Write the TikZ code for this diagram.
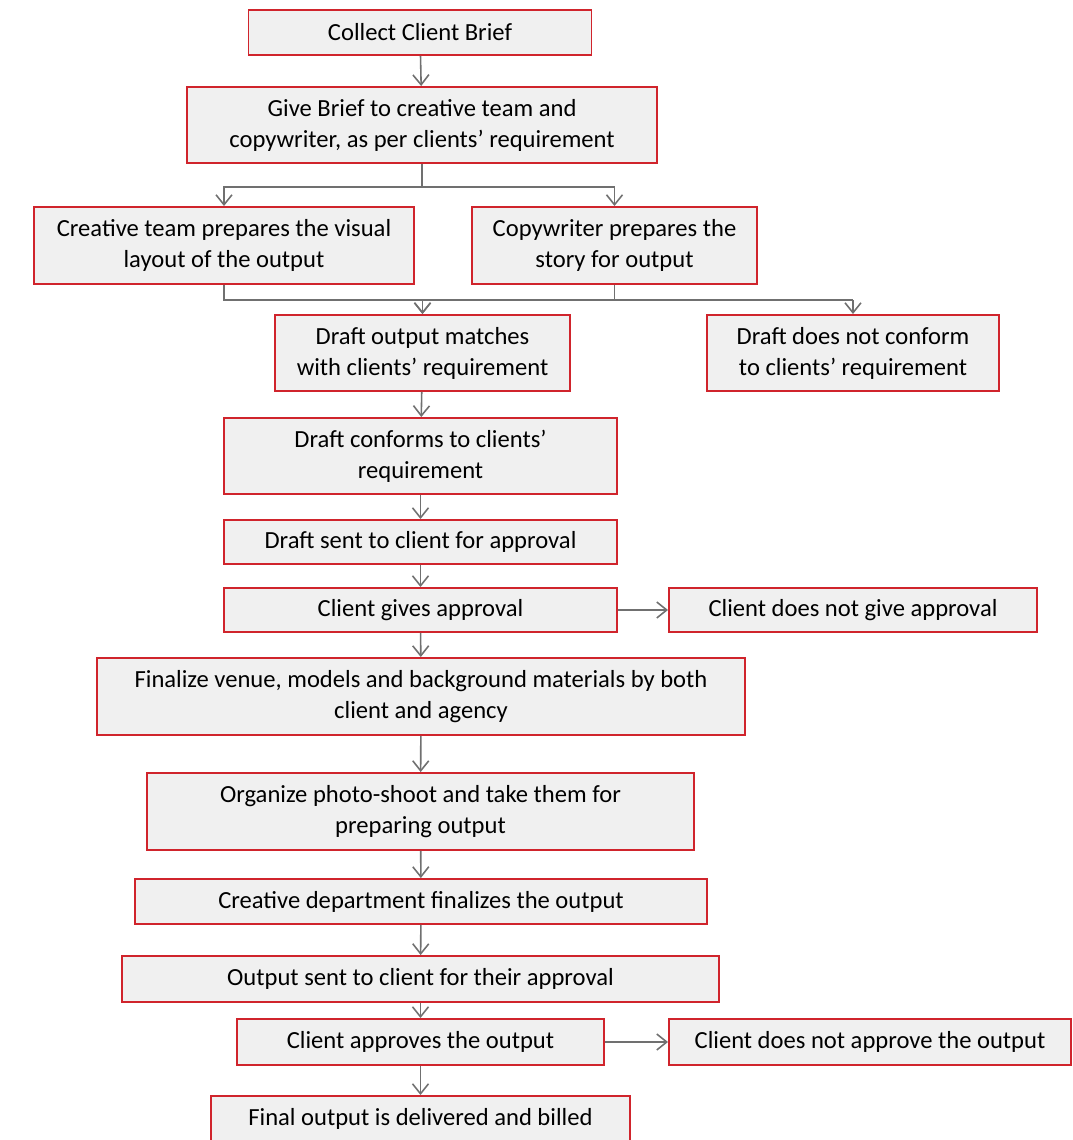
\documentclass[tikz,border=0pt]{standalone}
\usepackage{fontspec}
\setmainfont{Carlito}
\usetikzlibrary{arrows.meta}
\definecolor{boxred}{HTML}{D0242C}
\definecolor{boxfill}{HTML}{F0F0F0}
\definecolor{linegray}{HTML}{707070}
\begin{document}
\begin{tikzpicture}[font=\fontsize{14pt}{17.6pt}\selectfont,
  box/.style={draw=boxred, line width=1.1pt, fill=boxfill, align=center, inner sep=2pt},
  conn/.style={draw=linegray, line width=0.9pt},
  arr/.style={conn, -{Straight Barb[length=2mm, width=3.2mm, line width=0.9pt]}}]
\useasboundingbox (0,0) rectangle (21.44,-22.80);
\node[box, minimum width=6.86cm, minimum height=0.90cm] (collect) at (8.40,-0.65) {Collect Client Brief};
\node[box, minimum width=9.40cm, minimum height=1.52cm] (give) at (8.44,-2.50) {Give Brief to creative team and\\copywriter, as per clients' requirement};
\node[box, minimum width=7.60cm, minimum height=1.54cm] (visual) at (4.48,-4.91) {Creative team prepares the visual\\layout of the output};
\node[box, minimum width=5.70cm, minimum height=1.54cm] (story) at (12.29,-4.91) {Copywriter prepares the\\story for output};
\node[box, minimum width=5.90cm, minimum height=1.52cm] (match) at (8.45,-7.06) {Draft output matches\\with clients' requirement};
\node[box, minimum width=5.84cm, minimum height=1.52cm] (nomatch) at (17.06,-7.06) {Draft does not conform\\to clients' requirement};
\node[box, minimum width=7.86cm, minimum height=1.52cm] (conform) at (8.41,-9.12) {Draft conforms to clients'\\requirement};
\node[box, minimum width=7.86cm, minimum height=0.88cm] (sent) at (8.41,-10.84) {Draft sent to client for approval};
\node[box, minimum width=7.86cm, minimum height=0.88cm] (approval) at (8.41,-12.20) {Client gives approval};
\node[box, minimum width=7.36cm, minimum height=0.88cm] (noapproval) at (17.06,-12.20) {Client does not give approval};
\node[box, minimum width=12.96cm, minimum height=1.54cm] (venue) at (8.42,-13.93) {Finalize venue, models and background materials by both\\client and agency};
\node[box, minimum width=10.94cm, minimum height=1.54cm] (shoot) at (8.41,-16.23) {Organize photo-shoot and take them for\\preparing output};
\node[box, minimum width=11.44cm, minimum height=0.90cm] (finalize) at (8.42,-18.03) {Creative department finalizes the output};
\node[box, minimum width=11.94cm, minimum height=0.92cm] (outsent) at (8.41,-19.58) {Output sent to client for their approval};
\node[box, minimum width=7.34cm, minimum height=0.92cm] (approves) at (8.41,-20.84) {Client approves the output};
\node[box, minimum width=8.04cm, minimum height=0.92cm] (noapproves) at (17.40,-20.84) {Client does not approve the output};
\node[box, minimum width=8.38cm, minimum height=0.92cm] (billed) at (8.41,-22.38) {Final output is delivered and billed};
\coordinate (split) at (give.south |- 0,-3.74);
\coordinate (merge) at (match.north |- 0,-6.00);
\coordinate (mergeR) at (nomatch.north |- 0,-6.00);
\draw[arr] (collect) -- (give);
\draw[conn] (give) -- (split);
\draw[arr] (split) -| (visual);
\draw[arr] (split) -| (story);
\draw[arr] (visual) |- (merge) -- (match);
\draw[arr] (story) |- (merge) -- (match);
\draw[conn] (story) |- (mergeR);
\draw[arr] (mergeR) -- (nomatch);
\draw[arr] (match) -- (conform);
\draw[arr] (conform) -- (sent);
\draw[arr] (sent) -- (approval);
\draw[arr] (approval) -- (noapproval);
\draw[arr] (approval) -- (venue);
\draw[arr] (venue) -- (shoot);
\draw[arr] (shoot) -- (finalize);
\draw[arr] (finalize) -- (outsent);
\draw[arr] (outsent) -- (approves);
\draw[arr] (approves) -- (noapproves);
\draw[arr] (approves) -- (billed);
\end{tikzpicture}
\end{document}
